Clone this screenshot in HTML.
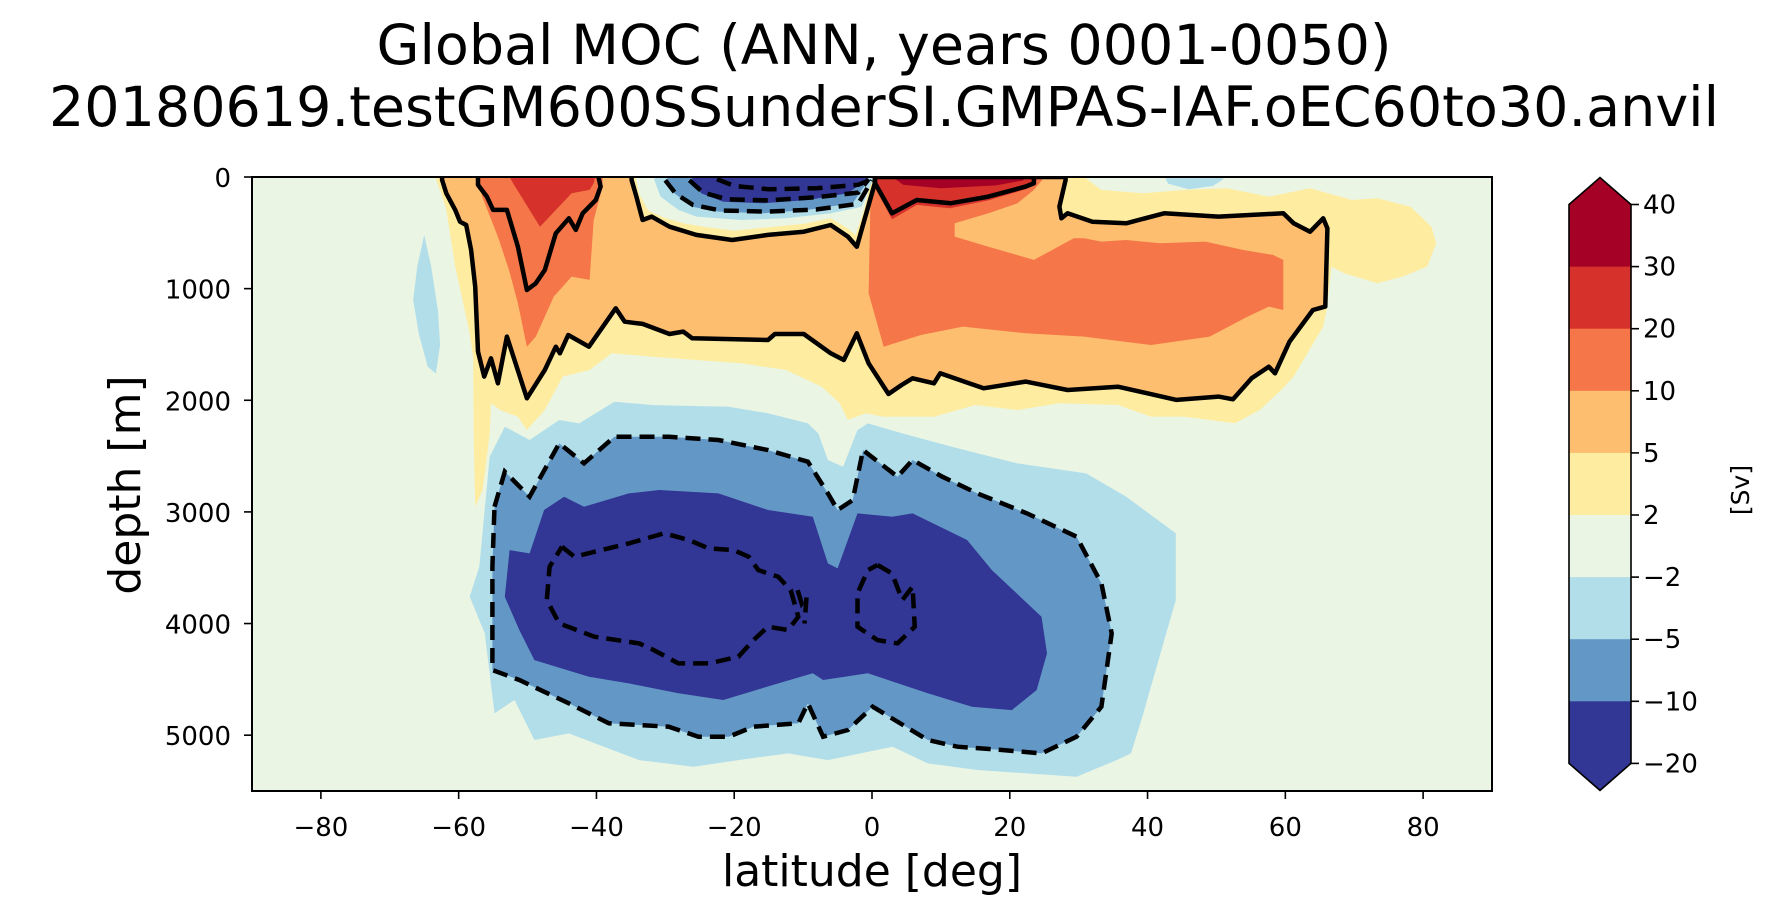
<!DOCTYPE html>
<html><head><meta charset="utf-8"><style>
html,body{margin:0;padding:0;background:#fff;}
svg{display:block;font-family:"DejaVu Sans","Liberation Sans",sans-serif;}
</style></head><body>
<svg id="chart" width="1768" height="915" viewBox="0 0 1768 915" xmlns="http://www.w3.org/2000/svg">
<text x="884" y="64" font-size="55.5" text-anchor="middle">Global MOC (ANN, years 0001-0050)</text>
<text x="884" y="126" font-size="55.5" text-anchor="middle">20180619.testGM600SSunderSI.GMPAS-IAF.oEC60to30.anvil</text>
<g id="plot"></g>
<g id="axes"></g>
<g id="cbar"></g>
<text x="128" y="485" font-size="44" text-anchor="middle" transform="rotate(-90 128 485)" dominant-baseline="middle">depth [m]</text>
<text x="872" y="886" font-size="44" text-anchor="middle">latitude [deg]</text>
<text x="1742" y="490" font-size="25" text-anchor="middle" transform="rotate(-90 1742 490)" dominant-baseline="middle">[Sv]</text>
</svg>
<script>
// ---- data ----
const xTicks = [-80,-60,-40,-20,0,20,40,60,80];
const yTicks = [0,1000,2000,3000,4000,5000];
const cbLevels = [40,30,20,10,5,2,-2,-5,-10,-20];
const cbLabels = ["40","30","20","10","5","2","\u22122","\u22125","\u221210","\u221220"];
const cbColors = ["#a50026","#d6312a","#f57648","#fdbe70","#feeda1","#eaf5e4","#b2deea","#6398c6","#323694"];

// filled contour regions, [latitude, depth]
const yellowUpper = [[-63.4,0],[-62.5,150],[-61.8,295],[-60.5,803],[-58.5,1370],[-57.9,1609],[-57.8,2400],[-57.6,2954],[-56.5,2800],[-55.5,2300],[-55.3,2027],[-54,2087],[-51.4,2147],[-50.1,2266],[-47.5,2087],[-44.9,1788],[-41,1729],[-37.8,1579],[-32,1609],[-25.5,1639],[-19,1669],[-12.5,1729],[-7.3,1878],[-4.7,2027],[-3.5,2176],[-0.9,2117],[1.7,2147],[9,2147],[15,2042],[21.1,2087],[27.2,2027],[35.7,2042],[40.5,2147],[45.4,2147],[52.7,2206],[56.3,2087],[59.4,1908],[61.2,1788],[65.5,1340],[66,1191],[66.7,803],[68.5,863],[73.4,952],[77,892],[80.6,803],[81.9,594],[81.2,445],[78.2,266],[73.4,191],[69.7,206],[63.6,100],[57.6,176],[51.5,100],[45.4,116],[39.3,146],[33.3,116],[30.8,0]];
const orangeMain = [[-62.4,0],[-62.4,27],[-61.8,146],[-60.5,295],[-59.8,400],[-58.9,430],[-58.2,654],[-57.6,982],[-57.2,1564],[-56.3,1788],[-55.3,1624],[-54.3,1848],[-53,1430],[-50.1,1982],[-47.5,1729],[-45.9,1520],[-45.3,1579],[-44.1,1415],[-41.1,1520],[-37.2,1176],[-35.9,1296],[-33.3,1316],[-29.4,1406],[-27.4,1385],[-26.1,1445],[-15.1,1460],[-14.1,1406],[-9.9,1406],[-6,1579],[-4.1,1639],[-2.2,1400],[-0.5,1669],[2.4,1944],[4.3,1863],[5.9,1803],[9,1848],[9.9,1758],[16.2,1893],[22.3,1833],[28.4,1908],[35.7,1878],[44.2,1997],[50.3,1967],[52.4,1991],[55.1,1803],[57.6,1699],[58.5,1758],[60.6,1475],[64,1191],[65.8,1161],[66.1,460],[65.5,370],[63.6,490],[61.2,415],[59.7,325],[50.3,355],[42.4,325],[36.9,415],[32,400],[28.4,325],[27.5,370],[27.2,265],[28.1,27],[28.1,0],[0.4,0],[0.4,56],[-2.2,624],[-3.5,534],[-6,430],[-9.9,490],[-15.1,519],[-20.3,564],[-25.5,519],[-29.4,445],[-32,355],[-33.3,385],[-34.2,176],[-34.9,27],[-34.9,0]];
const darkOrangeLeft = [[-57,0],[-57,27],[-56.6,176],[-54.3,534],[-52.7,833],[-51.4,1131],[-50.1,1520],[-48.8,1430],[-46.2,1072],[-43.6,892],[-41,922],[-40.4,385],[-39.1,86],[-39.1,0]];
const darkOrangeRight = [[0.5,0],[-0.2,146],[-0.5,1042],[1.7,1520],[7.1,1415],[13.2,1340],[22.3,1400],[30.8,1430],[40.5,1505],[49,1430],[54.5,1251],[57.6,1161],[59.7,1191],[59.7,743],[58.2,698],[53.9,654],[48.4,579],[41.8,594],[36.9,564],[33.3,579],[30.8,549],[29.3,549],[23.5,743],[16.9,624],[12,534],[12,415],[16.9,325],[21.1,236],[23.5,116],[24.7,27],[24.7,0]];
const redLeft = [[-52.6,0],[-52.1,56],[-48.2,445],[-43.6,146],[-41,116],[-40.4,56],[-40.2,0]];
const redRight = [[0.5,0],[0.5,100],[2.9,380],[6.5,250],[11.3,280],[16.9,210],[22.3,110],[23.5,70],[24,0]];
const darkRedRight = [[3,0],[4.5,70],[10,100],[18,75],[22,30],[22,0]];
const greenBowl = [[-34.3,0],[-33.8,150],[-32.5,300],[-30,370],[-27,420],[-24,450],[-20,480],[-15,450],[-10,420],[-6,370],[-3.5,460],[-2.4,520],[-1.2,300],[0,0]];
const topCellLight = [[-31.6,0],[-31.6,27],[-30.7,176],[-28.1,295],[-25.5,355],[-19,385],[-12.5,370],[-6,325],[-1.5,266],[0.1,27],[0.1,0]];
const topCellMid = [[-29.7,0],[-29.7,27],[-28.7,146],[-26.1,266],[-22.3,310],[-15.8,325],[-9.3,295],[-2.8,236],[-0.5,27],[-0.5,0]];
const topCellDark = [[-26.1,0],[-26.1,27],[-24.8,146],[-21.6,221],[-15.8,236],[-9.3,206],[-3.5,146],[-0.8,27],[-0.8,0]];
const leftBlue = [[-65,520],[-64,800],[-63,1200],[-62.7,1500],[-63.3,1760],[-64.5,1700],[-65.8,1400],[-66.6,1100],[-66,800]];
const topRightBlue = [[42.5,0],[43,60],[46,110],[49.5,80],[51,20],[51,0]];
const deepLight = [[-55.5,2506],[-53.3,2237],[-49.7,2356],[-45.4,2177],[-42.5,2207],[-37.4,2013],[-31.7,2043],[-20.8,2058],[-15.1,2117],[-9.3,2207],[-7.8,2297],[-6.4,2535],[-4.2,2595],[-2.1,2267],[-0.6,2207],[4.4,2297],[11.6,2416],[21,2565],[31.1,2655],[36.9,2864],[44.1,3192],[44.1,3790],[42.7,4088],[39.1,4864],[37.6,5163],[35.5,5223],[29.7,5372],[22.5,5342],[15.3,5312],[8.1,5253],[3,5103],[-6.4,5223],[-12.2,5163],[-19.4,5223],[-25.9,5282],[-33.8,5223],[-38.9,5103],[-44,4984],[-49,5043],[-51.9,4685],[-54.8,4805],[-56.2,4088],[-58.4,3760],[-57,3491]];
const deepMid = [[-54.8,2954],[-53.3,2640],[-49.7,2864],[-45.4,2386],[-41.8,2565],[-37.4,2327],[-29.5,2327],[-22.3,2356],[-15.1,2446],[-9.3,2550],[-6.4,2834],[-5,2983],[-2.8,2894],[-1.3,2446],[3.7,2685],[5.9,2535],[10.2,2685],[15.3,2834],[22.5,3013],[29.7,3222],[33.3,3640],[34.8,4088],[33.3,4745],[29.7,5014],[24.6,5163],[18.9,5133],[12.4,5103],[8.1,5043],[0.1,4745],[-3.5,4954],[-7.1,5014],[-9.3,4715],[-10.7,4894],[-17.2,4924],[-20.8,5014],[-25.2,5014],[-29.5,4924],[-38.2,4894],[-44,4715],[-51.2,4506],[-55.1,4416],[-55.1,3491]];
const deepDark = [[-53.3,3760],[-52.6,3342],[-49.7,3372],[-47.6,2983],[-44.7,2864],[-41.8,2954],[-35.3,2834],[-30.9,2804],[-22.3,2834],[-15.1,2983],[-8.6,3043],[-6.4,3461],[-5,3506],[-2.1,3013],[2.9,3043],[5.9,3013],[13.8,3252],[17.4,3521],[24.6,3939],[25.4,4267],[23.9,4596],[20.3,4775],[14.5,4745],[8.1,4625],[-0.6,4446],[-7.1,4506],[-8.6,4446],[-13.6,4536],[-21.6,4685],[-28.1,4625],[-35.3,4536],[-41.1,4476],[-49,4327],[-51.2,4058]];

// contour lines
const solidLines = [
  orangeMain,
  [[-57.2,0],[-57.2,71],[-55.9,176],[-55,295],[-53,295],[-51.4,624],[-50.1,1012],[-48.8,952],[-47.5,833],[-45.9,504],[-44,370],[-43,474],[-42,325],[-40.1,206],[-39.4,86],[-39.7,0]],
  [[0.45,0],[0.45,56],[2.9,325],[6.5,206],[11.4,236],[16.9,176],[22.3,86],[23.5,56],[23.5,0]]
];
const dashedLines = [
  [[-30,30],[-28.5,150],[-26,250],[-22,300],[-15,310],[-8,290],[-2,240],[0,30]],
  [[-26.5,30],[-24.5,140],[-21,200],[-15,210],[-8,180],[-2,140],[-0.5,20]],
  [[-22.5,20],[-20,80],[-15,110],[-8,100],[-2,70],[0,20]],
  [[-54.8,2954],[-53.3,2640],[-49.7,2864],[-45.4,2386],[-41.8,2565],[-37.4,2327],[-29.5,2327],[-22.3,2356],[-15.1,2446],[-9.3,2550],[-6.4,2834],[-5,2983],[-2.8,2894],[-1.3,2446],[3.7,2685],[5.9,2535],[10.2,2685],[15.3,2834],[22.5,3013],[29.7,3222],[33.3,3640],[34.8,4088],[33.3,4745],[29.7,5014],[24.6,5163],[18.9,5133],[12.4,5103],[8.1,5043],[0.1,4745],[-3.5,4954],[-7.1,5014],[-9.3,4715],[-10.7,4894],[-17.2,4924],[-20.8,5014],[-25.2,5014],[-29.5,4924],[-38.2,4894],[-44,4715],[-51.2,4506],[-55.1,4416],[-55.1,3491],[-54.8,2954]],
  [[-45,3312],[-43.2,3401],[-35.3,3282],[-30.2,3192],[-26.6,3252],[-23.7,3327],[-20.1,3342],[-17.9,3401],[-16.5,3521],[-13.6,3581],[-11.8,3700],[-10.7,3939],[-12.2,4058],[-15.1,4028],[-17.2,4148],[-19.4,4297],[-23.7,4357],[-28.1,4357],[-31.7,4237],[-33.8,4178],[-40.3,4118],[-45.4,3999],[-47.2,3790],[-46.8,3491],[-45,3312]],
  [[0.8,3476],[2.9,3551],[4.4,3790],[5.9,3670],[6.2,4028],[3.7,4178],[0.8,4148],[-2.1,4028],[-2.1,3730],[-0.6,3521],[0.8,3476]],
  [[-10.8,3700],[-10.2,3820],[-9.5,3760],[-9.8,4000]]
];

// ---- scales ----
const PL=252, PR=1492, PT=177, PB=791;
const xs = lat => PL + (lat+90)*(PR-PL)/180;
const ys = d => PT + d*(PB-PT)/5500;
const NS="http://www.w3.org/2000/svg";
const plot=document.getElementById('plot'), axes=document.getElementById('axes'), cbar=document.getElementById('cbar');
function mk(tag, parent){const e=document.createElementNS(NS,tag);parent.appendChild(e);return e;}
function pts(arr){return arr.map(p=>xs(p[0]).toFixed(1)+','+ys(p[1]).toFixed(1)).join(' ');}

const clip=mk('clipPath',plot); clip.setAttribute('id','pc');
const cr=mk('rect',clip); cr.setAttribute('x',PL);cr.setAttribute('y',PT);cr.setAttribute('width',PR-PL);cr.setAttribute('height',PB-PT);
const g=mk('g',plot); g.setAttribute('clip-path','url(#pc)');
const bg=mk('rect',g); bg.setAttribute('x',PL);bg.setAttribute('y',PT);bg.setAttribute('width',PR-PL);bg.setAttribute('height',PB-PT);bg.setAttribute('fill',cbColors[5]);



const fills=[
 [yellowUpper,4,'fill-yellow-upper'],[orangeMain,3,'fill-orange-main'],[darkOrangeLeft,2,'fill-darkorange-left'],[darkOrangeRight,2,'fill-darkorange-right'],
 [redLeft,1,'fill-red-left'],[redRight,1,'fill-red-right'],[darkRedRight,0,'fill-darkred-right'],[greenBowl,5,'fill-green-bowl'],
 [topCellLight,6,'fill-topcell-light'],[topCellMid,7,'fill-topcell-mid'],[topCellDark,8,'fill-topcell-dark'],
 [leftBlue,6,'fill-blue-left'],[topRightBlue,6,'fill-blue-topright'],
 [deepLight,6,'fill-deep-light'],[deepMid,7,'fill-deep-mid'],[deepDark,8,'fill-deep-dark']
];
fills.forEach(f=>{
  const p=mk('polygon',g); p.setAttribute('points',pts(f[0])); p.setAttribute('fill',cbColors[f[1]]);
  
  
});
solidLines.forEach((l,i)=>{
  const p=mk('polyline',g); p.setAttribute('points',pts(l)); p.setAttribute('fill','none');p.setAttribute('stroke','#000');p.setAttribute('stroke-width','4.5');p.setAttribute('stroke-linejoin','round');
  
  
});
dashedLines.forEach((l,i)=>{
  const p=mk('polyline',g); p.setAttribute('points',pts(l)); p.setAttribute('fill','none');p.setAttribute('stroke','#000');p.setAttribute('stroke-width','4.5');p.setAttribute('stroke-dasharray','15,8');
  
  
});
const frame=mk('rect',plot); frame.setAttribute('x',PL);frame.setAttribute('y',PT);frame.setAttribute('width',PR-PL);frame.setAttribute('height',PB-PT);frame.setAttribute('fill','none');frame.setAttribute('stroke','#000');frame.setAttribute('stroke-width','2');



xTicks.forEach(t=>{
  const x=xs(t);
  const l=mk('line',axes); l.setAttribute('x1',x);l.setAttribute('x2',x);l.setAttribute('y1',PB);l.setAttribute('y2',PB+8);l.setAttribute('stroke','#000');l.setAttribute('stroke-width','1.6');
  
  
  const tx=mk('text',axes); tx.setAttribute('x',x);tx.setAttribute('y',PB+45);tx.setAttribute('font-size','26');tx.setAttribute('text-anchor','middle');
  tx.textContent = t<0 ? '\u2212'+Math.abs(t) : String(t);
  
  
});
yTicks.forEach(t=>{
  const y=ys(t);
  const l=mk('line',axes); l.setAttribute('x1',PL-8);l.setAttribute('x2',PL);l.setAttribute('y1',y);l.setAttribute('y2',y);l.setAttribute('stroke','#000');l.setAttribute('stroke-width','1.6');
  
  
  const tx=mk('text',axes); tx.setAttribute('x',PL-21);tx.setAttribute('y',y+10);tx.setAttribute('font-size','26');tx.setAttribute('text-anchor','end');
  tx.textContent=String(t);
  
  
});

// colorbar
const CX0=1569, CX1=1631, CT=204.5, CSEG=62.1, TIP=27;
const CB=CT+CSEG*9;
for(let i=0;i<9;i++){
  const r=mk('rect',cbar); r.setAttribute('x',CX0);r.setAttribute('y',CT+i*CSEG);r.setAttribute('width',CX1-CX0);r.setAttribute('height',CSEG+0.5);r.setAttribute('fill',cbColors[i]);
  
  
}
const tt=mk('polygon',cbar); tt.setAttribute('points',`${CX0},${CT} ${(CX0+CX1)/2},${CT-TIP} ${CX1},${CT}`); tt.setAttribute('fill',cbColors[0]);


const tb=mk('polygon',cbar); tb.setAttribute('points',`${CX0},${CB} ${(CX0+CX1)/2},${CB+TIP} ${CX1},${CB}`); tb.setAttribute('fill',cbColors[8]);


const out=mk('polygon',cbar); out.setAttribute('points',`${CX0},${CT} ${(CX0+CX1)/2},${CT-TIP} ${CX1},${CT} ${CX1},${CB} ${(CX0+CX1)/2},${CB+TIP} ${CX0},${CB}`);out.setAttribute('fill','none');out.setAttribute('stroke','#000');out.setAttribute('stroke-width','1.6');


cbLevels.forEach((lv,i)=>{
  const y=CT+i*CSEG;
  const l=mk('line',cbar); l.setAttribute('x1',CX1);l.setAttribute('x2',CX1+8);l.setAttribute('y1',y);l.setAttribute('y2',y);l.setAttribute('stroke','#000');l.setAttribute('stroke-width','1.6');
  
  
  const tx=mk('text',cbar); tx.setAttribute('x',CX1+12);tx.setAttribute('y',y+9);tx.setAttribute('font-size','26');
  tx.textContent=cbLabels[i];
  
  
});
</script>
</body></html>
